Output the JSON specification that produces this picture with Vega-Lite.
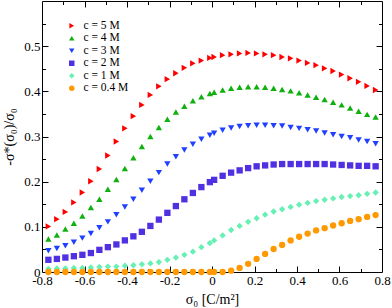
{
  "$schema": "https://vega.github.io/schema/vega-lite/v6.json",
  "width": 340,
  "height": 271,
  "autosize": {"type": "none"},
  "padding": {"left": 42, "top": 1, "right": 10, "bottom": 36},
  "background": "white",
  "config": {
    "view": {"stroke": "#000", "strokeWidth": 1},
    "font": "Liberation Serif",
    "axis": {"labelFont": "Liberation Serif", "labelFontSize": 13, "labelColor": "#000", "titleFont": "Liberation Serif", "titleFontSize": 14, "titleFontWeight": "normal", "titleColor": "#000", "tickColor": "#000", "tickWidth": 1, "grid": false, "domain": false},
    "legend": {"labelFont": "Liberation Serif", "labelFontSize": 11.5, "labelColor": "#000"}
  },
  "datasets": {
    "pts": [
      {"c":"c = 5 M","x":-0.77,"y":0.101},{"c":"c = 5 M","x":-0.73,"y":0.117},{"c":"c = 5 M","x":-0.69,"y":0.133},{"c":"c = 5 M","x":-0.65,"y":0.154},{"c":"c = 5 M","x":-0.61,"y":0.176},{"c":"c = 5 M","x":-0.57,"y":0.201},{"c":"c = 5 M","x":-0.53,"y":0.228},{"c":"c = 5 M","x":-0.49,"y":0.258},{"c":"c = 5 M","x":-0.45,"y":0.289},{"c":"c = 5 M","x":-0.41,"y":0.318},{"c":"c = 5 M","x":-0.37,"y":0.345},{"c":"c = 5 M","x":-0.33,"y":0.370},{"c":"c = 5 M","x":-0.29,"y":0.392},{"c":"c = 5 M","x":-0.25,"y":0.411},{"c":"c = 5 M","x":-0.21,"y":0.427},{"c":"c = 5 M","x":-0.17,"y":0.440},{"c":"c = 5 M","x":-0.13,"y":0.452},{"c":"c = 5 M","x":-0.09,"y":0.462},{"c":"c = 5 M","x":-0.05,"y":0.468},{"c":"c = 5 M","x":-0.01,"y":0.474},{"c":"c = 5 M","x":0.01,"y":0.476},{"c":"c = 5 M","x":0.05,"y":0.480},{"c":"c = 5 M","x":0.09,"y":0.482},{"c":"c = 5 M","x":0.13,"y":0.484},{"c":"c = 5 M","x":0.17,"y":0.485},{"c":"c = 5 M","x":0.21,"y":0.484},{"c":"c = 5 M","x":0.25,"y":0.482},{"c":"c = 5 M","x":0.29,"y":0.480},{"c":"c = 5 M","x":0.33,"y":0.476},{"c":"c = 5 M","x":0.37,"y":0.473},{"c":"c = 5 M","x":0.41,"y":0.468},{"c":"c = 5 M","x":0.45,"y":0.463},{"c":"c = 5 M","x":0.49,"y":0.458},{"c":"c = 5 M","x":0.53,"y":0.451},{"c":"c = 5 M","x":0.57,"y":0.445},{"c":"c = 5 M","x":0.61,"y":0.437},{"c":"c = 5 M","x":0.65,"y":0.429},{"c":"c = 5 M","x":0.69,"y":0.421},{"c":"c = 5 M","x":0.73,"y":0.412},{"c":"c = 5 M","x":0.77,"y":0.403},
      {"c":"c = 4 M","x":-0.77,"y":0.073},{"c":"c = 4 M","x":-0.73,"y":0.082},{"c":"c = 4 M","x":-0.69,"y":0.095},{"c":"c = 4 M","x":-0.65,"y":0.108},{"c":"c = 4 M","x":-0.61,"y":0.124},{"c":"c = 4 M","x":-0.57,"y":0.143},{"c":"c = 4 M","x":-0.53,"y":0.161},{"c":"c = 4 M","x":-0.49,"y":0.183},{"c":"c = 4 M","x":-0.45,"y":0.205},{"c":"c = 4 M","x":-0.41,"y":0.229},{"c":"c = 4 M","x":-0.37,"y":0.253},{"c":"c = 4 M","x":-0.33,"y":0.278},{"c":"c = 4 M","x":-0.29,"y":0.300},{"c":"c = 4 M","x":-0.25,"y":0.320},{"c":"c = 4 M","x":-0.21,"y":0.338},{"c":"c = 4 M","x":-0.17,"y":0.354},{"c":"c = 4 M","x":-0.13,"y":0.367},{"c":"c = 4 M","x":-0.09,"y":0.379},{"c":"c = 4 M","x":-0.05,"y":0.388},{"c":"c = 4 M","x":-0.01,"y":0.395},{"c":"c = 4 M","x":0.01,"y":0.398},{"c":"c = 4 M","x":0.05,"y":0.403},{"c":"c = 4 M","x":0.09,"y":0.407},{"c":"c = 4 M","x":0.13,"y":0.409},{"c":"c = 4 M","x":0.17,"y":0.410},{"c":"c = 4 M","x":0.21,"y":0.410},{"c":"c = 4 M","x":0.25,"y":0.409},{"c":"c = 4 M","x":0.29,"y":0.407},{"c":"c = 4 M","x":0.33,"y":0.404},{"c":"c = 4 M","x":0.37,"y":0.401},{"c":"c = 4 M","x":0.41,"y":0.397},{"c":"c = 4 M","x":0.45,"y":0.392},{"c":"c = 4 M","x":0.49,"y":0.387},{"c":"c = 4 M","x":0.53,"y":0.382},{"c":"c = 4 M","x":0.57,"y":0.376},{"c":"c = 4 M","x":0.61,"y":0.370},{"c":"c = 4 M","x":0.65,"y":0.363},{"c":"c = 4 M","x":0.69,"y":0.356},{"c":"c = 4 M","x":0.73,"y":0.349},{"c":"c = 4 M","x":0.77,"y":0.343},
      {"c":"c = 3 M","x":-0.77,"y":0.047},{"c":"c = 3 M","x":-0.73,"y":0.052},{"c":"c = 3 M","x":-0.69,"y":0.058},{"c":"c = 3 M","x":-0.65,"y":0.066},{"c":"c = 3 M","x":-0.61,"y":0.075},{"c":"c = 3 M","x":-0.57,"y":0.085},{"c":"c = 3 M","x":-0.53,"y":0.098},{"c":"c = 3 M","x":-0.49,"y":0.111},{"c":"c = 3 M","x":-0.45,"y":0.127},{"c":"c = 3 M","x":-0.41,"y":0.144},{"c":"c = 3 M","x":-0.37,"y":0.161},{"c":"c = 3 M","x":-0.33,"y":0.181},{"c":"c = 3 M","x":-0.29,"y":0.201},{"c":"c = 3 M","x":-0.25,"y":0.220},{"c":"c = 3 M","x":-0.21,"y":0.239},{"c":"c = 3 M","x":-0.17,"y":0.255},{"c":"c = 3 M","x":-0.13,"y":0.270},{"c":"c = 3 M","x":-0.09,"y":0.283},{"c":"c = 3 M","x":-0.05,"y":0.294},{"c":"c = 3 M","x":-0.01,"y":0.303},{"c":"c = 3 M","x":0.01,"y":0.307},{"c":"c = 3 M","x":0.05,"y":0.314},{"c":"c = 3 M","x":0.09,"y":0.319},{"c":"c = 3 M","x":0.13,"y":0.322},{"c":"c = 3 M","x":0.17,"y":0.324},{"c":"c = 3 M","x":0.21,"y":0.325},{"c":"c = 3 M","x":0.25,"y":0.325},{"c":"c = 3 M","x":0.29,"y":0.324},{"c":"c = 3 M","x":0.33,"y":0.323},{"c":"c = 3 M","x":0.37,"y":0.320},{"c":"c = 3 M","x":0.41,"y":0.318},{"c":"c = 3 M","x":0.45,"y":0.315},{"c":"c = 3 M","x":0.49,"y":0.312},{"c":"c = 3 M","x":0.53,"y":0.308},{"c":"c = 3 M","x":0.57,"y":0.304},{"c":"c = 3 M","x":0.61,"y":0.300},{"c":"c = 3 M","x":0.65,"y":0.297},{"c":"c = 3 M","x":0.69,"y":0.292},{"c":"c = 3 M","x":0.73,"y":0.289},{"c":"c = 3 M","x":0.77,"y":0.284},
      {"c":"c = 2 M","x":-0.77,"y":0.027},{"c":"c = 2 M","x":-0.73,"y":0.029},{"c":"c = 2 M","x":-0.69,"y":0.032},{"c":"c = 2 M","x":-0.65,"y":0.035},{"c":"c = 2 M","x":-0.61,"y":0.038},{"c":"c = 2 M","x":-0.57,"y":0.042},{"c":"c = 2 M","x":-0.53,"y":0.049},{"c":"c = 2 M","x":-0.49,"y":0.055},{"c":"c = 2 M","x":-0.45,"y":0.061},{"c":"c = 2 M","x":-0.41,"y":0.070},{"c":"c = 2 M","x":-0.37,"y":0.079},{"c":"c = 2 M","x":-0.33,"y":0.089},{"c":"c = 2 M","x":-0.29,"y":0.102},{"c":"c = 2 M","x":-0.25,"y":0.116},{"c":"c = 2 M","x":-0.21,"y":0.131},{"c":"c = 2 M","x":-0.17,"y":0.146},{"c":"c = 2 M","x":-0.13,"y":0.161},{"c":"c = 2 M","x":-0.09,"y":0.175},{"c":"c = 2 M","x":-0.05,"y":0.188},{"c":"c = 2 M","x":-0.01,"y":0.199},{"c":"c = 2 M","x":0.01,"y":0.204},{"c":"c = 2 M","x":0.05,"y":0.213},{"c":"c = 2 M","x":0.09,"y":0.220},{"c":"c = 2 M","x":0.13,"y":0.225},{"c":"c = 2 M","x":0.17,"y":0.230},{"c":"c = 2 M","x":0.21,"y":0.234},{"c":"c = 2 M","x":0.25,"y":0.236},{"c":"c = 2 M","x":0.29,"y":0.238},{"c":"c = 2 M","x":0.33,"y":0.239},{"c":"c = 2 M","x":0.37,"y":0.239},{"c":"c = 2 M","x":0.41,"y":0.239},{"c":"c = 2 M","x":0.45,"y":0.239},{"c":"c = 2 M","x":0.49,"y":0.239},{"c":"c = 2 M","x":0.53,"y":0.239},{"c":"c = 2 M","x":0.57,"y":0.238},{"c":"c = 2 M","x":0.61,"y":0.237},{"c":"c = 2 M","x":0.65,"y":0.236},{"c":"c = 2 M","x":0.69,"y":0.235},{"c":"c = 2 M","x":0.73,"y":0.235},{"c":"c = 2 M","x":0.77,"y":0.234},
      {"c":"c = 1 M","x":-0.77,"y":0.007},{"c":"c = 1 M","x":-0.73,"y":0.008},{"c":"c = 1 M","x":-0.69,"y":0.008},{"c":"c = 1 M","x":-0.65,"y":0.009},{"c":"c = 1 M","x":-0.61,"y":0.009},{"c":"c = 1 M","x":-0.57,"y":0.010},{"c":"c = 1 M","x":-0.53,"y":0.011},{"c":"c = 1 M","x":-0.49,"y":0.012},{"c":"c = 1 M","x":-0.45,"y":0.012},{"c":"c = 1 M","x":-0.41,"y":0.014},{"c":"c = 1 M","x":-0.37,"y":0.015},{"c":"c = 1 M","x":-0.33,"y":0.017},{"c":"c = 1 M","x":-0.29,"y":0.019},{"c":"c = 1 M","x":-0.25,"y":0.022},{"c":"c = 1 M","x":-0.21,"y":0.027},{"c":"c = 1 M","x":-0.17,"y":0.032},{"c":"c = 1 M","x":-0.13,"y":0.038},{"c":"c = 1 M","x":-0.09,"y":0.045},{"c":"c = 1 M","x":-0.05,"y":0.055},{"c":"c = 1 M","x":-0.01,"y":0.064},{"c":"c = 1 M","x":0.01,"y":0.070},{"c":"c = 1 M","x":0.05,"y":0.081},{"c":"c = 1 M","x":0.09,"y":0.093},{"c":"c = 1 M","x":0.13,"y":0.102},{"c":"c = 1 M","x":0.17,"y":0.111},{"c":"c = 1 M","x":0.21,"y":0.119},{"c":"c = 1 M","x":0.25,"y":0.127},{"c":"c = 1 M","x":0.29,"y":0.134},{"c":"c = 1 M","x":0.33,"y":0.139},{"c":"c = 1 M","x":0.37,"y":0.144},{"c":"c = 1 M","x":0.41,"y":0.149},{"c":"c = 1 M","x":0.45,"y":0.153},{"c":"c = 1 M","x":0.49,"y":0.157},{"c":"c = 1 M","x":0.53,"y":0.160},{"c":"c = 1 M","x":0.57,"y":0.163},{"c":"c = 1 M","x":0.61,"y":0.166},{"c":"c = 1 M","x":0.65,"y":0.168},{"c":"c = 1 M","x":0.69,"y":0.170},{"c":"c = 1 M","x":0.73,"y":0.173},{"c":"c = 1 M","x":0.77,"y":0.176},
      {"c":"c = 0.4 M","x":-0.77,"y":0},{"c":"c = 0.4 M","x":-0.73,"y":0},{"c":"c = 0.4 M","x":-0.69,"y":0},{"c":"c = 0.4 M","x":-0.65,"y":0},{"c":"c = 0.4 M","x":-0.61,"y":0},{"c":"c = 0.4 M","x":-0.57,"y":0},{"c":"c = 0.4 M","x":-0.53,"y":0},{"c":"c = 0.4 M","x":-0.49,"y":0},{"c":"c = 0.4 M","x":-0.45,"y":0},{"c":"c = 0.4 M","x":-0.41,"y":0},{"c":"c = 0.4 M","x":-0.37,"y":0},{"c":"c = 0.4 M","x":-0.33,"y":0},{"c":"c = 0.4 M","x":-0.29,"y":0},{"c":"c = 0.4 M","x":-0.25,"y":0},{"c":"c = 0.4 M","x":-0.21,"y":0},{"c":"c = 0.4 M","x":-0.17,"y":0},{"c":"c = 0.4 M","x":-0.13,"y":0},{"c":"c = 0.4 M","x":-0.09,"y":0},{"c":"c = 0.4 M","x":-0.05,"y":0},{"c":"c = 0.4 M","x":-0.01,"y":0},{"c":"c = 0.4 M","x":0.01,"y":0},{"c":"c = 0.4 M","x":0.05,"y":0},{"c":"c = 0.4 M","x":0.09,"y":0.003},{"c":"c = 0.4 M","x":0.13,"y":0.009},{"c":"c = 0.4 M","x":0.17,"y":0.018},{"c":"c = 0.4 M","x":0.21,"y":0.029},{"c":"c = 0.4 M","x":0.25,"y":0.040},{"c":"c = 0.4 M","x":0.29,"y":0.051},{"c":"c = 0.4 M","x":0.33,"y":0.060},{"c":"c = 0.4 M","x":0.37,"y":0.070},{"c":"c = 0.4 M","x":0.41,"y":0.078},{"c":"c = 0.4 M","x":0.45,"y":0.085},{"c":"c = 0.4 M","x":0.49,"y":0.092},{"c":"c = 0.4 M","x":0.53,"y":0.097},{"c":"c = 0.4 M","x":0.57,"y":0.103},{"c":"c = 0.4 M","x":0.61,"y":0.108},{"c":"c = 0.4 M","x":0.65,"y":0.113},{"c":"c = 0.4 M","x":0.69,"y":0.117},{"c":"c = 0.4 M","x":0.73,"y":0.122},{"c":"c = 0.4 M","x":0.77,"y":0.126}
    ]
  },
  "data": {"name": "pts"},
  "layer": [
    {
      "mark": {"type": "point", "filled": true, "opacity": 1, "size": 40},
      "encoding": {
        "x": {"field": "x", "type": "quantitative", "scale": {"domain": [-0.8, 0.8], "nice": false, "zero": false},
              "axis": {"orient": "bottom", "values": [-0.8, -0.6, -0.4, -0.2, 0, 0.2, 0.4, 0.6, 0.8], "ticks": false, "labelPadding": 2, "labelExpr": "'' + datum.value", "title": "σ₀ [C/m²]", "titlePadding": 5, "labelFlush": false}},
        "y": {"field": "y", "type": "quantitative", "scale": {"domain": [0, 0.6], "nice": false, "zero": false},
              "axis": {"orient": "left", "values": [0, 0.1, 0.2, 0.3, 0.4, 0.5], "ticks": false, "labelPadding": 2, "labelExpr": "'' + datum.value", "title": "-σ*(σ₀)/σ₀", "titlePadding": 7}},
        "color": {"field": "c", "type": "nominal",
                  "scale": {"domain": ["c = 5 M", "c = 4 M", "c = 3 M", "c = 2 M", "c = 1 M", "c = 0.4 M"], "range": ["#ff0000", "#10b010", "#2040ff", "#5030e0", "#66f0b4", "#ff9900"]},
                  "legend": {"orient": "none", "legendX": 24, "legendY": 19, "title": null, "symbolSize": 30, "labelOffset": 6, "rowPadding": -0.5, "padding": 0}},
        "shape": {"field": "c", "type": "nominal",
                  "scale": {"domain": ["c = 5 M", "c = 4 M", "c = 3 M", "c = 2 M", "c = 1 M", "c = 0.4 M"], "range": ["triangle-right", "triangle-up", "triangle-down", "square", "diamond", "circle"]}}
      }
    },
    {
      "mark": {"type": "point", "opacity": 0},
      "encoding": {
        "x": {"field": "x", "type": "quantitative", "scale": {"domain": [-0.8, 0.8], "nice": false, "zero": false},
              "axis": {"orient": "bottom", "values": [-0.6, -0.4, -0.2, 0, 0.2, 0.4, 0.6], "labels": false, "tickSize": -6, "title": null}},
        "y": {"field": "y", "type": "quantitative", "scale": {"domain": [0, 0.6], "nice": false, "zero": false},
              "axis": {"orient": "left", "values": [0.1, 0.2, 0.3, 0.4, 0.5], "labels": false, "tickSize": -6, "title": null}}
      }
    },
    {
      "mark": {"type": "point", "opacity": 0},
      "encoding": {
        "x": {"field": "x", "type": "quantitative", "scale": {"domain": [-0.8, 0.8], "nice": false, "zero": false},
              "axis": {"orient": "bottom", "values": [-0.7, -0.5, -0.3, -0.1, 0.1, 0.3, 0.5, 0.7], "labels": false, "tickSize": -3.5, "title": null}},
        "y": {"field": "y", "type": "quantitative", "scale": {"domain": [0, 0.6], "nice": false, "zero": false},
              "axis": {"orient": "left", "values": [0.05, 0.15, 0.25, 0.35, 0.45, 0.55], "labels": false, "tickSize": -3.5, "title": null}}
      }
    },
    {
      "mark": {"type": "point", "opacity": 0},
      "encoding": {
        "x": {"field": "x", "type": "quantitative", "scale": {"domain": [-0.8, 0.8], "nice": false, "zero": false},
              "axis": {"orient": "top", "values": [-0.6, -0.4, -0.2, 0, 0.2, 0.4, 0.6], "labels": false, "tickSize": -6, "title": null}},
        "y": {"field": "y", "type": "quantitative", "scale": {"domain": [0, 0.6], "nice": false, "zero": false},
              "axis": {"orient": "right", "values": [0.1, 0.2, 0.3, 0.4, 0.5], "labels": false, "tickSize": -6, "title": null}}
      }
    },
    {
      "mark": {"type": "point", "opacity": 0},
      "encoding": {
        "x": {"field": "x", "type": "quantitative", "scale": {"domain": [-0.8, 0.8], "nice": false, "zero": false},
              "axis": {"orient": "top", "values": [-0.7, -0.5, -0.3, -0.1, 0.1, 0.3, 0.5, 0.7], "labels": false, "tickSize": -3.5, "title": null}},
        "y": {"field": "y", "type": "quantitative", "scale": {"domain": [0, 0.6], "nice": false, "zero": false},
              "axis": {"orient": "right", "values": [0.05, 0.15, 0.25, 0.35, 0.45, 0.55], "labels": false, "tickSize": -3.5, "title": null}}
      }
    }
  ],
  "resolve": {"axis": {"x": "independent", "y": "independent"}}
}
